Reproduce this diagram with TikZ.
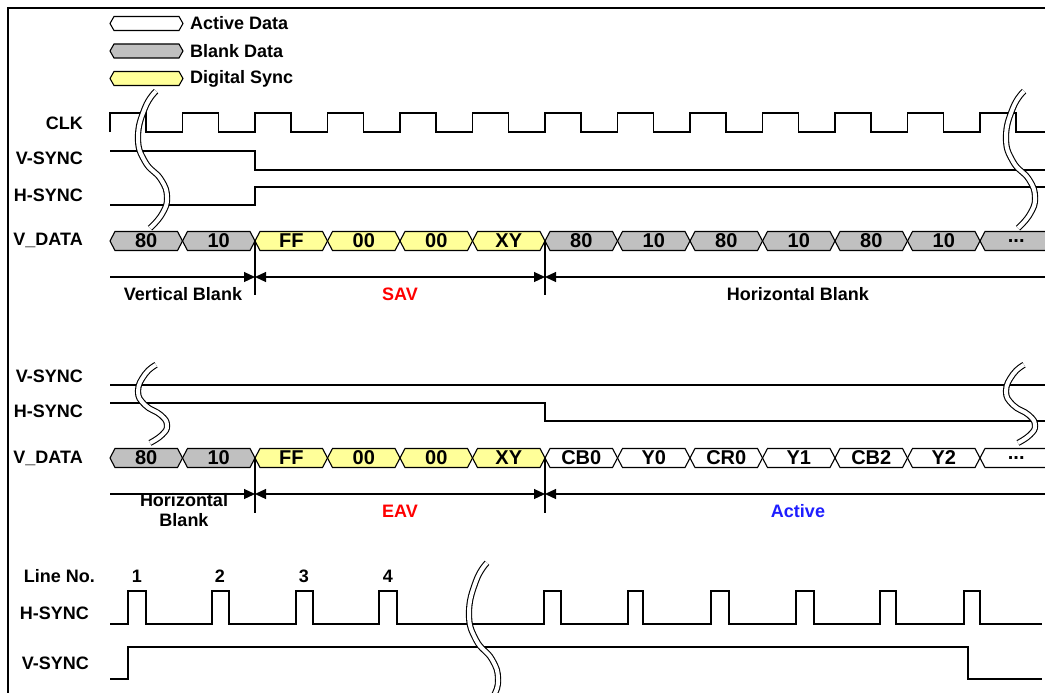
\documentclass[tikz,border=0pt]{standalone}
\usepackage{fontspec}
\setmainfont{Liberation Sans}
\usetikzlibrary{arrows.meta}

\definecolor{blankgray}{RGB}{192,192,192}
\definecolor{syncyellow}{RGB}{255,255,153}
\definecolor{avred}{RGB}{255,0,0}
\definecolor{actblue}{RGB}{30,30,255}

\newcommand{\celldots}{...}
% break mark: x, top y, height
\newcommand{\brkmark}[3]{%
  \begin{scope}[shift={(#1,#2)}, yscale=#3/100]
    \draw[brk] plot[smooth, tension=0.8] coordinates {(5,-3) (-6,10) (-13,33) (-6,52) (10,66) (16,80) (11,93) (-1,104)};
  \end{scope}}

\begin{document}
\begin{tikzpicture}[
    x=1pt, y=-1pt,
    lbl/.style={font=\bfseries\fontsize{18}{20}\selectfont, inner sep=0pt},
    celltxt/.style={font=\bfseries\fontsize{20}{22}\selectfont, inner sep=0pt},
    wave/.style={line width=1.4pt},
    cellline/.style={line width=1.1pt},
    dim/.style={line width=1.2pt},
    brk/.style={double=white, double distance=4pt, line width=1.1pt},
    >={Triangle[length=11pt,width=10pt]}
]
\clip (0,0) rectangle (1045,693);
\fill[white] (0,0) rectangle (1045,693);
\draw[line width=2pt] (8,700) -- (8,8) -- (1050,8);

% legend
\foreach \fc/\txt [count=\i from 0] in {white/Active Data, blankgray/Blank Data, syncyellow/Digital Sync}{
  \pgfmathsetmacro{\yc}{23.5+27.5*\i}
  \draw[cellline, fill=\fc] (110,\yc) -- (114,\yc-7) -- (179,\yc-7) -- (183,\yc) -- (179,\yc+7) -- (114,\yc+7) -- cycle;
  \node[lbl, anchor=west] (lg\i) at (190,\yc) {\txt};
}

% upper part
\node[lbl, anchor=east] (clk) at (83,123) {CLK};
\node[lbl, anchor=east] (vs1) at (83,158) {V-SYNC};
\node[lbl, anchor=east] (hs1) at (83,195) {H-SYNC};
\node[lbl, anchor=east] (vd1) at (83,240) {V\_DATA};

\draw[wave] (110,132) \foreach \k in {0,...,12}{ -- ({110+72.5*\k},132) -- ({110+72.5*\k},113) -- ({146+72.5*\k},113) -- ({146+72.5*\k},132)} -- (1050,132);
\draw[wave] (110,151) -- (255,151) -- (255,170) -- (1050,170);
\draw[wave] (110,205) -- (255,205) -- (255,187) -- (1050,187);

\foreach \txt/\fc [count=\k from 0] in {80/blankgray, 10/blankgray, FF/syncyellow, 00/syncyellow, 00/syncyellow, XY/syncyellow, 80/blankgray, 10/blankgray, 80/blankgray, 10/blankgray, 80/blankgray, 10/blankgray, \celldots/blankgray}{
  \pgfmathsetmacro{\xa}{110+72.5*\k}
  \pgfmathsetmacro{\xb}{\xa+72.5}
  \draw[cellline, fill=\fc] (\xa,241) -- (\xa+5,231.5) -- (\xb-5,231.5) -- (\xb,241) -- (\xb-5,250.5) -- (\xa+5,250.5) -- cycle;
  \node[celltxt] (sa\k) at (\xa+36.25,241) {\txt};
}

\coordinate (a0) at (110,277);
\coordinate (a1) at (255,277);
\coordinate (a2) at (545,277);
\coordinate (a3) at (1050,277);
\draw[dim] (255,241) -- (255,295);
\draw[dim] (545,241) -- (545,295);
\draw[dim, ->] (a0) -- (a1);
\draw[dim, <->] (a1) -- (a2);
\draw[dim, <-] (a2) -- (a3);
\node[lbl] (vblank) at (183,294) {Vertical Blank};
\node[lbl, text=avred] (sav) at (400,294) {SAV};
\node[lbl] (hblank) at (798,294) {Horizontal Blank};

\brkmark{151}{95}{128}
\brkmark{1019}{95}{128}

% middle part
\node[lbl, anchor=east] (vs2) at (83,376) {V-SYNC};
\node[lbl, anchor=east] (hs2) at (83,411) {H-SYNC};
\node[lbl, anchor=east] (vd2) at (83,458) {V\_DATA};

\draw[wave] (110,385) -- (1050,385);
\draw[wave] (110,403) -- (545,403) -- (545,421) -- (1050,421);

\foreach \txt/\fc [count=\k from 0] in {80/blankgray, 10/blankgray, FF/syncyellow, 00/syncyellow, 00/syncyellow, XY/syncyellow, CB0/white, Y0/white, CR0/white, Y1/white, CB2/white, Y2/white, \celldots/white}{
  \pgfmathsetmacro{\xa}{110+72.5*\k}
  \pgfmathsetmacro{\xb}{\xa+72.5}
  \draw[cellline, fill=\fc] (\xa,458) -- (\xa+5,448.5) -- (\xb-5,448.5) -- (\xb,458) -- (\xb-5,467.5) -- (\xa+5,467.5) -- cycle;
  \node[celltxt] (ea\k) at (\xa+36.25,458) {\txt};
}

\coordinate (b0) at (110,494);
\coordinate (b1) at (255,494);
\coordinate (b2) at (545,494);
\coordinate (b3) at (1050,494);
\draw[dim] (255,458) -- (255,513);
\draw[dim] (545,458) -- (545,513);
\draw[dim, ->] (b0) -- (b1);
\draw[dim, <->] (b1) -- (b2);
\draw[dim, <-] (b2) -- (b3);
\node[lbl, align=center, font=\bfseries\fontsize{18}{20}\selectfont] (hblank2) at (184,510) {Horizontal\\Blank};
\node[lbl, text=avred] (eav) at (400,511) {EAV};
\node[lbl, text=actblue] (active) at (798,511) {Active};

\brkmark{151}{367}{73}
\brkmark{1019}{367}{73}

% lower part
\node[lbl, anchor=east] (lineno) at (95,576) {Line No.};
\node[lbl, anchor=east] (hs3) at (89,613) {H-SYNC};
\node[lbl, anchor=east] (vs3) at (89,663) {V-SYNC};
\foreach \n/\xp in {1/137, 2/220, 3/304, 4/388}{
  \node[lbl] (ln\n) at (\xp,576) {\n};
}

\draw[wave] (110,624) \foreach \ra/\fa in {128/146, 212/229, 296/313, 379/397, 544/561, 628/643, 711/729, 796/814, 880/896, 964/980}{ -- (\ra,624) -- (\ra,591) -- (\fa,591) -- (\fa,624)} -- (1042,624);
\draw[wave] (110,679) -- (128,679) -- (128,647) -- (968,647) -- (968,679) -- (1042,679);

\brkmark{482}{567}{140}
\end{tikzpicture}
\end{document}
